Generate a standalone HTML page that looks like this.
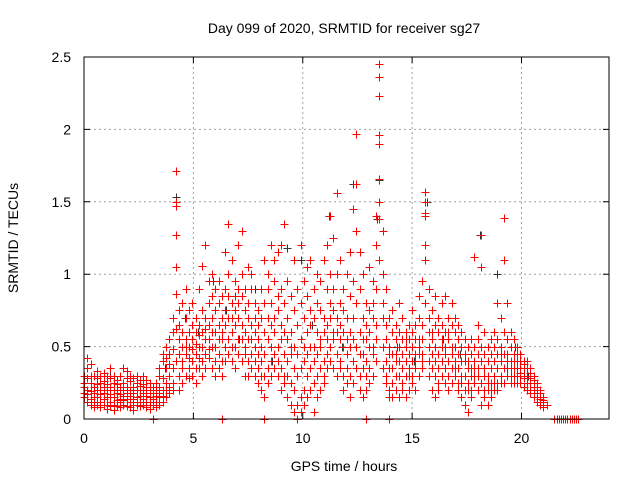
<!DOCTYPE html>
<html><head><meta charset="utf-8"><style>
body{margin:0;background:#fff;}
svg{display:block;font-family:"Liberation Sans",sans-serif;}
</style></head><body>
<svg id="chart" width="640" height="480">
<rect width="640" height="480" fill="#fff"/>
<g id="grid"></g>
<g id="marks"></g>
<rect x="84" y="57" width="525" height="362" fill="none" stroke="#000" stroke-width="1"/>
<g id="axes"></g>
<text x="344" y="33" font-size="14" text-anchor="middle">Day 099 of 2020, SRMTID for receiver sg27</text>
<text x="344" y="471" font-size="14" text-anchor="middle">GPS time / hours</text>
<text x="0" y="0" font-size="14" text-anchor="middle" transform="translate(18,238) rotate(-90)">SRMTID / TECUs</text>
</svg>
<script>
const xTicks=[0,5,10,15,20];
const yTicks=[0,0.5,1,1.5,2,2.5];
const yTickLabels=["0","0.5","1","1.5","2","2.5"];
// each row: [hour, value, value, ...]
const redRows=[
[0.0,.22,.18,.25,.15,.3],[0.15,.2,.42,.12,.28,.17,.35],[0.3,.25,.1,.19,.38,.14,.3],[0.45,.15,.22,.08,.3,.18,.12],
[0.6,.2,.28,.1,.15,.33,.24],[0.75,.12,.2,.3,.08,.17,.25],[0.9,.18,.1,.26,.14,.22,.32],[1.05,.1,.2,.15,.3,.07,.24],
[1.2,.22,.12,.28,.17,.35,.09],[1.35,.15,.25,.1,.2,.3,.06],[1.5,.2,.13,.27,.09,.18,.24],[1.65,.12,.3,.17,.22,.08,.14],
[1.8,.25,.16,.35,.1,.2,.13],[1.95,.18,.28,.09,.22,.14,.33],[2.1,.12,.2,.26,.08,.16,.3],[2.25,.22,.1,.18,.28,.14,.06],
[2.4,.15,.25,.1,.2,.3,.12],[2.55,.2,.12,.27,.16,.09,.23],[2.7,.1,.18,.24,.14,.3,.2],[2.85,.16,.08,.22,.12,.27,.18],
[3.0,.12,.2,.1,.25,.15,.07],[3.15,.18,.1,.22,.14,0],[3.3,.12,.2,.08,.16,.25],[3.45,.15,.3,.1,.22,.35,.18],
[3.6,.2,.4,.12,.28,.45,.16],[3.75,.25,.15,.35,.5,.2,.42],[3.9,.3,.18,.45,.22,.55,.38],[4.05,.35,.6,.25,.48,.7,.2],
[4.2,1.71,1.5,1.47,1.27,1.05,.86,.62,.4],[4.35,.3,.55,.75,.45,.2,.65],[4.5,.4,.6,.25,.8,.5,.35],[4.65,.5,.3,.7,.45,.9,.55],
[4.8,.35,.6,.42,.75,.28,.5],[4.95,.55,.4,.65,.3,.8,.48],[5.1,.45,.7,.35,.6,.25,.52],[5.25,.5,.35,.65,.9,.42,.58],
[5.4,.6,.4,.75,.3,1.06,.5],[5.55,.45,.7,.55,1.2,.35,.62],[5.7,.55,.8,.42,.95,.65,.48],[5.85,.6,.35,.85,.5,1.0,.7],
[6.0,.5,.75,.4,.9,.6,.3],[6.15,.65,.45,.8,.55,.95,.35],[6.3,.4,.7,.55,.85,.3,.6,0],[6.45,.5,.9,.65,1.15,.4,.75],
[6.6,.7,.45,1.0,.55,1.35,.85],[6.75,.6,.8,.4,1.1,.7,.5],[6.9,.75,.5,.95,.35,.85,.65],[7.05,.55,.9,.7,1.2,.45,.8],
[7.2,.65,.4,.85,1.3,.55,1.0],[7.35,.5,.75,.3,.9,.6,.45],[7.5,.8,.55,1.05,.4,.7,.3],[7.65,.45,.65,.9,.35,.55,1.0],
[7.8,.6,.3,.8,.5,.7,.4],[7.95,.35,.55,.25,.75,.45,.65],[8.1,.5,.2,.7,.4,.9,.3],[8.25,.3,.6,.15,.8,.45,1.1,0],
[8.4,.55,.35,.9,.25,.7,1.0],[8.55,.4,.8,.5,1.2,.3,.65],[8.7,.7,.45,.95,.35,1.1,.6],[8.85,.5,.85,.3,.75,1.15,.4],
[9.0,.35,.65,.9,.2,.55,1.2],[9.15,.6,.3,.8,.45,1.35,.25],[9.3,.4,.7,.15,.55,.95,.3],[9.45,.25,.6,.45,.85,.1,.5],
[9.6,.5,.2,.75,.35,1.1,.05],[9.75,.3,.65,.1,.45,.9,0],[9.9,.15,.55,.35,.8,.05,1.2],[10.05,.4,.2,.7,.5,.1,.95],
[10.2,.6,.3,.85,.15,.45,1.05],[10.35,.35,.75,.5,.2,.65,1.1],[10.5,.5,.25,.9,.4,.05,.7],[10.65,.3,.6,.15,.8,.45,1.0],
[10.8,.55,.35,.75,.2,.95,.5],[10.95,.4,.7,.3,1.1,.6,.25],[11.1,.65,.45,.9,.35,1.2,.55],[11.25,.5,.8,1.4,.4,.7,1.0],
[11.4,.6,.35,.9,1.25,.55,.75],[11.55,.45,1.56,.7,.3,1.0,.6],[11.7,.55,.8,.4,1.1,.35,.65],[11.85,.3,.6,.9,.2,.5,.75],
[12.0,.45,.25,.7,.35,1.0,.55],[12.15,.6,.3,.85,.15,.5,1.15],[12.3,.4,.7,.25,.95,1.45,.55],[12.45,1.97,.5,1.62,.8,.35,1.3],
[12.6,.6,.3,.9,.45,1.15,.2],[12.75,.45,.7,.15,.55,1.0,.35],[12.9,.55,.3,.8,.4,.65,.2,0],[13.05,.35,.6,.25,.75,.5,1.05],
[13.2,.5,.8,.3,.95,.45,.7],[13.35,.65,1.4,.4,1.2,.9,.55],[13.5,2.45,2.36,2.23,1.96,1.9,1.66,1.5,1.38,1.1],[13.65,.8,.5,1.0,.35,.7,1.3],
[13.8,.4,.65,.25,.55,.9,.3],[13.95,.5,.2,.7,.35,.45,.15,0],[14.1,.35,.6,.25,.45,.75,.15],[14.25,.45,.3,.55,.2,.65,.4],
[14.4,.3,.5,.15,.6,.4,.8],[14.55,.45,.25,.55,.35,.7,.2],[14.7,.4,.6,.3,.5,.15,.55],[14.85,.35,.55,.2,.45,.65,.3],
[15.0,.5,.3,.6,.4,.75,.25],[15.15,.35,.55,.45,.2,.65,.4],[15.3,.45,.7,.3,.55,.85,.5],[15.45,.55,.35,.65,.95,.45,.4],
[15.6,1.57,1.5,1.42,1.4,1.2,1.1,.8],[15.75,.6,.4,.9,.5,.7,.3],[15.9,.45,.75,.35,.6,.2,.55],[16.05,.5,.3,.65,.4,.85,.15],
[16.2,.35,.6,.25,.45,.7,.2],[16.35,.55,.4,.8,.3,.5,.65],[16.5,.45,.25,.6,.35,.85,.5],[16.65,.3,.55,.4,.7,.2,.6],
[16.8,.5,.35,.65,.45,.8,.25],[16.95,.4,.6,.3,.5,.7,.35],[17.1,.55,.25,.45,.65,.35,.2],[17.25,.3,.5,.15,.4,.6,.25],
[17.4,.45,.3,.55,.2,.4,.1],[17.55,.25,.4,.05,.35,.5,.2],[17.7,.35,.2,.45,.3,.15,.55],[17.85,.4,.25,1.12,.35,.5,.3],
[18.0,.3,.55,.2,.45,.65,.35],[18.15,1.27,.5,.25,.4,1.05,.1],[18.3,.35,.6,.2,.45,.15,.3],[18.45,.25,.4,.1,.5,.3,.2],
[18.6,.35,.2,.45,.25,.55,.15],[18.75,.3,.5,.2,.4,.6,.25],[18.9,.45,.25,.8,.35,.55,.2],[19.05,.3,.5,.4,.7,.25,.45],
[19.2,1.39,.35,.6,.45,.25,1.1],[19.35,.4,.3,.55,.35,.8,.45],[19.5,.35,.5,.25,.4,.6,.3],[19.65,.45,.3,.4,.35,.55,.25],
[19.8,.35,.45,.3,.4,.25,.5],[19.95,.4,.3,.35,.45,.25,.32],[20.1,.35,.28,.4,.3,.22,.38],[20.25,.3,.25,.35,.2,.28,.4],
[20.4,.28,.2,.32,.25,.35,.18],[20.55,.25,.18,.3,.22,.15,.27],[20.7,.2,.15,.25,.12,.22,.18],[20.85,.15,.12,.2,.1,.18,.14],
[21.0,.12,.08,.15,.1,.13],[21.15,.1],[21.5,0],[21.6,0],[21.7,0],[21.8,0],[21.9,0],[22.0,0],[22.1,0],[22.2,0],[22.3,0],[22.4,0],[22.5,0],[22.6,0]
];
const blackHours=[0.3,1.2,2.1,3.7,4.2,4.6,5.2,5.9,6.5,7.1,7.8,8.6,9.3,9.9,10.4,11.2,11.8,12.3,12.6,13.4,13.5,14.3,15.1,15.7,16.4,17.2,18.1,18.3,18.9,19.2,19.7,20.3];
const blackValues=[0.25,0.3,0.2,0.35,1.53,0.7,0.6,0.95,0.75,0.55,0.9,0.4,1.18,1.1,0.65,1.4,0.5,1.62,0.45,1.38,1.65,0.5,0.4,1.5,0.55,0.45,1.27,0.3,1.0,1.1,0.5,0.3];

const NS='http://www.w3.org/2000/svg';
const X0=84,X1=609,Y0=419,Y1=57;
function xScale(h){return X0+(h/24)*(X1-X0);}
function yScale(v){return Y0-(v/2.5)*(Y0-Y1);}
const grid=document.getElementById('grid'),axes=document.getElementById('axes'),marks=document.getElementById('marks');
function mk(tag,attrs,parent){const e=document.createElementNS(NS,tag);for(const k in attrs)e.setAttribute(k,attrs[k]);parent.appendChild(e);return e;}
xTicks.forEach(t=>{
  const x=xScale(t);
  if(t>0){const g=mk('line',{x1:x,x2:x,y1:Y1,y2:Y0,stroke:'#a0a0a0','stroke-dasharray':'2,3'},grid);
  
  }
  const tk=mk('path',{d:`M${x},${Y0}v-6M${x},${Y1}v6`,stroke:'#000'},axes);
  
  
  const l=mk('text',{x:x,y:Y0+24,'font-size':14,'text-anchor':'middle'},axes);l.textContent=String(t);
  
  
});
yTicks.forEach((t,i)=>{
  const y=yScale(t);
  if(t>0&&t<2.5){const g=mk('line',{x1:X0,x2:X1,y1:y,y2:y,stroke:'#a0a0a0','stroke-dasharray':'2,3'},grid);
  
  }
  const tk=mk('path',{d:`M${X0},${y}h6M${X1},${y}h-6`,stroke:'#000'},axes);
  
  
  const l=mk('text',{x:X0-13,y:y+5,'font-size':14,'text-anchor':'end'},axes);l.textContent=yTickLabels[i];
  
  
});
function plus(h,v,color,name){
  const x=Math.round(xScale(h))+0.5,y=Math.round(yScale(v))+0.5;
  const p=mk('path',{d:`M${x-4},${y}h8M${x},${y-4}v8`,stroke:color,'stroke-width':1},marks);
  
  
}
blackHours.forEach((h,i)=>plus(h,blackValues[i],'#333','black-point'));
redRows.forEach(row=>{for(let j=1;j<row.length;j++)plus(row[0],row[j],'#ff0000','red-point');});
</script>
</body></html>
